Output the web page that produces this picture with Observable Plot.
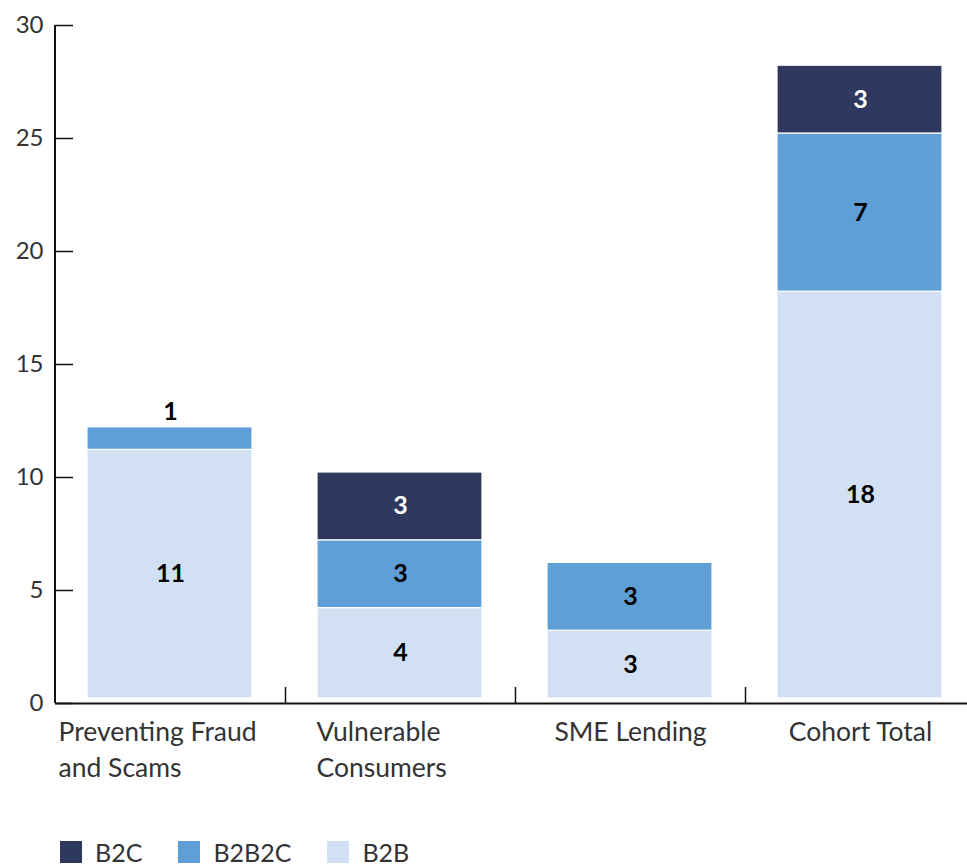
<!DOCTYPE html>
<html>
<head>
<meta charset="utf-8">
<script src="https://cdn.jsdelivr.net/npm/d3@7"></script>
<script src="https://cdn.jsdelivr.net/npm/@observablehq/plot@0.6"></script>
<style>
  html, body { margin: 0; padding: 0; background: #fff; }
  body { width: 967px; height: 866px; overflow: hidden; font-family: Lato, "Noto Sans", sans-serif; }
  #chart svg { display: block; overflow: visible; }
  .legend { display: flex; align-items: center; margin-top: 27px; padding-left: 60px; font-size: 25px; color: #333; }
  .legend .item { display: flex; align-items: center; margin-right: 36px; }
  .legend .sw { width: 22px; height: 22px; margin-right: 13px; }
</style>
</head>
<body>
<div id="chart"></div>
<div class="legend" id="legend"></div>
<script>
const categories = ["Preventing Fraud and Scams", "Vulnerable Consumers", "SME Lending", "Cohort Total"];
const categoryLabels = ["Preventing Fraud\nand Scams", "Vulnerable\nConsumers", "SME Lending", "Cohort Total"];
const series = ["B2B", "B2B2C", "B2C"];
const legendOrder = ["B2C", "B2B2C", "B2B"];
const colors = ["#d1e0f2", "#5f9fd8", "#2f385e"];
const b2b   = [11, 4, 3, 18];
const b2b2c = [1, 3, 3, 7];
const b2c   = [0, 3, 0, 3];
const yTicks = [0, 5, 10, 15, 20, 25, 30];

const values = {B2B: b2b, B2B2C: b2b2c, B2C: b2c};
const data = [];
categories.forEach((c, i) => {
  series.forEach(s => data.push({category: c, series: s, value: values[s][i]}));
});
const labelOf = Object.fromEntries(categories.map((c, i) => [c, categoryLabels[i]]));

const stackOpts = {x: "category", y: "value", z: "series", order: series};

const chart = Plot.plot({
  width: 967,
  height: 810,
  marginLeft: 55,
  marginRight: -8,
  marginTop: 25,
  marginBottom: 107,
  style: {fontFamily: "Lato, 'Noto Sans', sans-serif", color: "#333", overflow: "visible"},
  x: {domain: categories, padding: 0, axis: null},
  y: {domain: [0, 30], ticks: yTicks, label: null},
  color: {domain: series, range: colors},
  marks: [
    Plot.barY(data, Plot.stackY({...stackOpts, fill: "series", insetLeft: 32, insetRight: 33, stroke: "white", strokeWidth: 1.2, dy: -5})),
    Plot.text(data, Plot.stackY({...stackOpts, text: d => (d.value >= 2 && d.series !== "B2C") ? String(d.value) : "", fill: "#000", fontWeight: "bold", fontSize: 25, dy: -5})),
    Plot.text(data, Plot.stackY({...stackOpts, text: d => (d.value >= 2 && d.series === "B2C") ? String(d.value) : "", fill: "#fff", fontWeight: "bold", fontSize: 25, dy: -5})),
    Plot.text(data, Plot.stackY2({...stackOpts, text: d => (d.value > 0 && d.value < 2) ? String(d.value) : "", fill: "#000", fontWeight: "bold", fontSize: 25, dy: -20})),
    Plot.axisY({ticks: yTicks, tickSize: 0, tickPadding: 12, fontSize: 24, fill: "#333", tickFormat: d => String(d)}),
    Plot.tickY(yTicks, {y: d => d, insetRight: 902, stroke: "#111", strokeWidth: 1.5}),
    Plot.tickX([categories[0]], {x: d => d, dx: -115.5, stroke: "#111", strokeWidth: 2}),
    Plot.tickX(categories.slice(0, 3), {x: d => d, dx: 115, insetTop: 662, stroke: "#111", strokeWidth: 1.5}),
    Plot.ruleY([0], {stroke: "#111", strokeWidth: 2}),
    Plot.text(categories.slice(0, 1), {x: d => d, text: d => labelOf[d], frameAnchor: "bottom", textAnchor: "start", lineAnchor: "top", dx: -112, dy: 12, fontSize: 26.5, lineHeight: 1.36, fill: "#333"}),
    Plot.text(categories.slice(1, 2), {x: d => d, text: d => labelOf[d], frameAnchor: "bottom", textAnchor: "start", lineAnchor: "top", dx: -84, dy: 12, fontSize: 26.5, lineHeight: 1.36, fill: "#333"}),
    Plot.text(categories.slice(2), {x: d => d, text: d => labelOf[d], frameAnchor: "bottom", textAnchor: "middle", lineAnchor: "top", dy: 12, fontSize: 26.5, lineHeight: 1.36, fill: "#333"})
  ]
});
document.getElementById("chart").appendChild(chart);

const legend = document.getElementById("legend");
legendOrder.forEach(s => {
  const item = document.createElement("div");
  item.className = "item";
  const sw = document.createElement("span");
  sw.className = "sw";
  sw.style.background = colors[series.indexOf(s)];
  const t = document.createElement("span");
  t.textContent = s;
  item.appendChild(sw);
  item.appendChild(t);
  legend.appendChild(item);
});
</script>
</body>
</html>
